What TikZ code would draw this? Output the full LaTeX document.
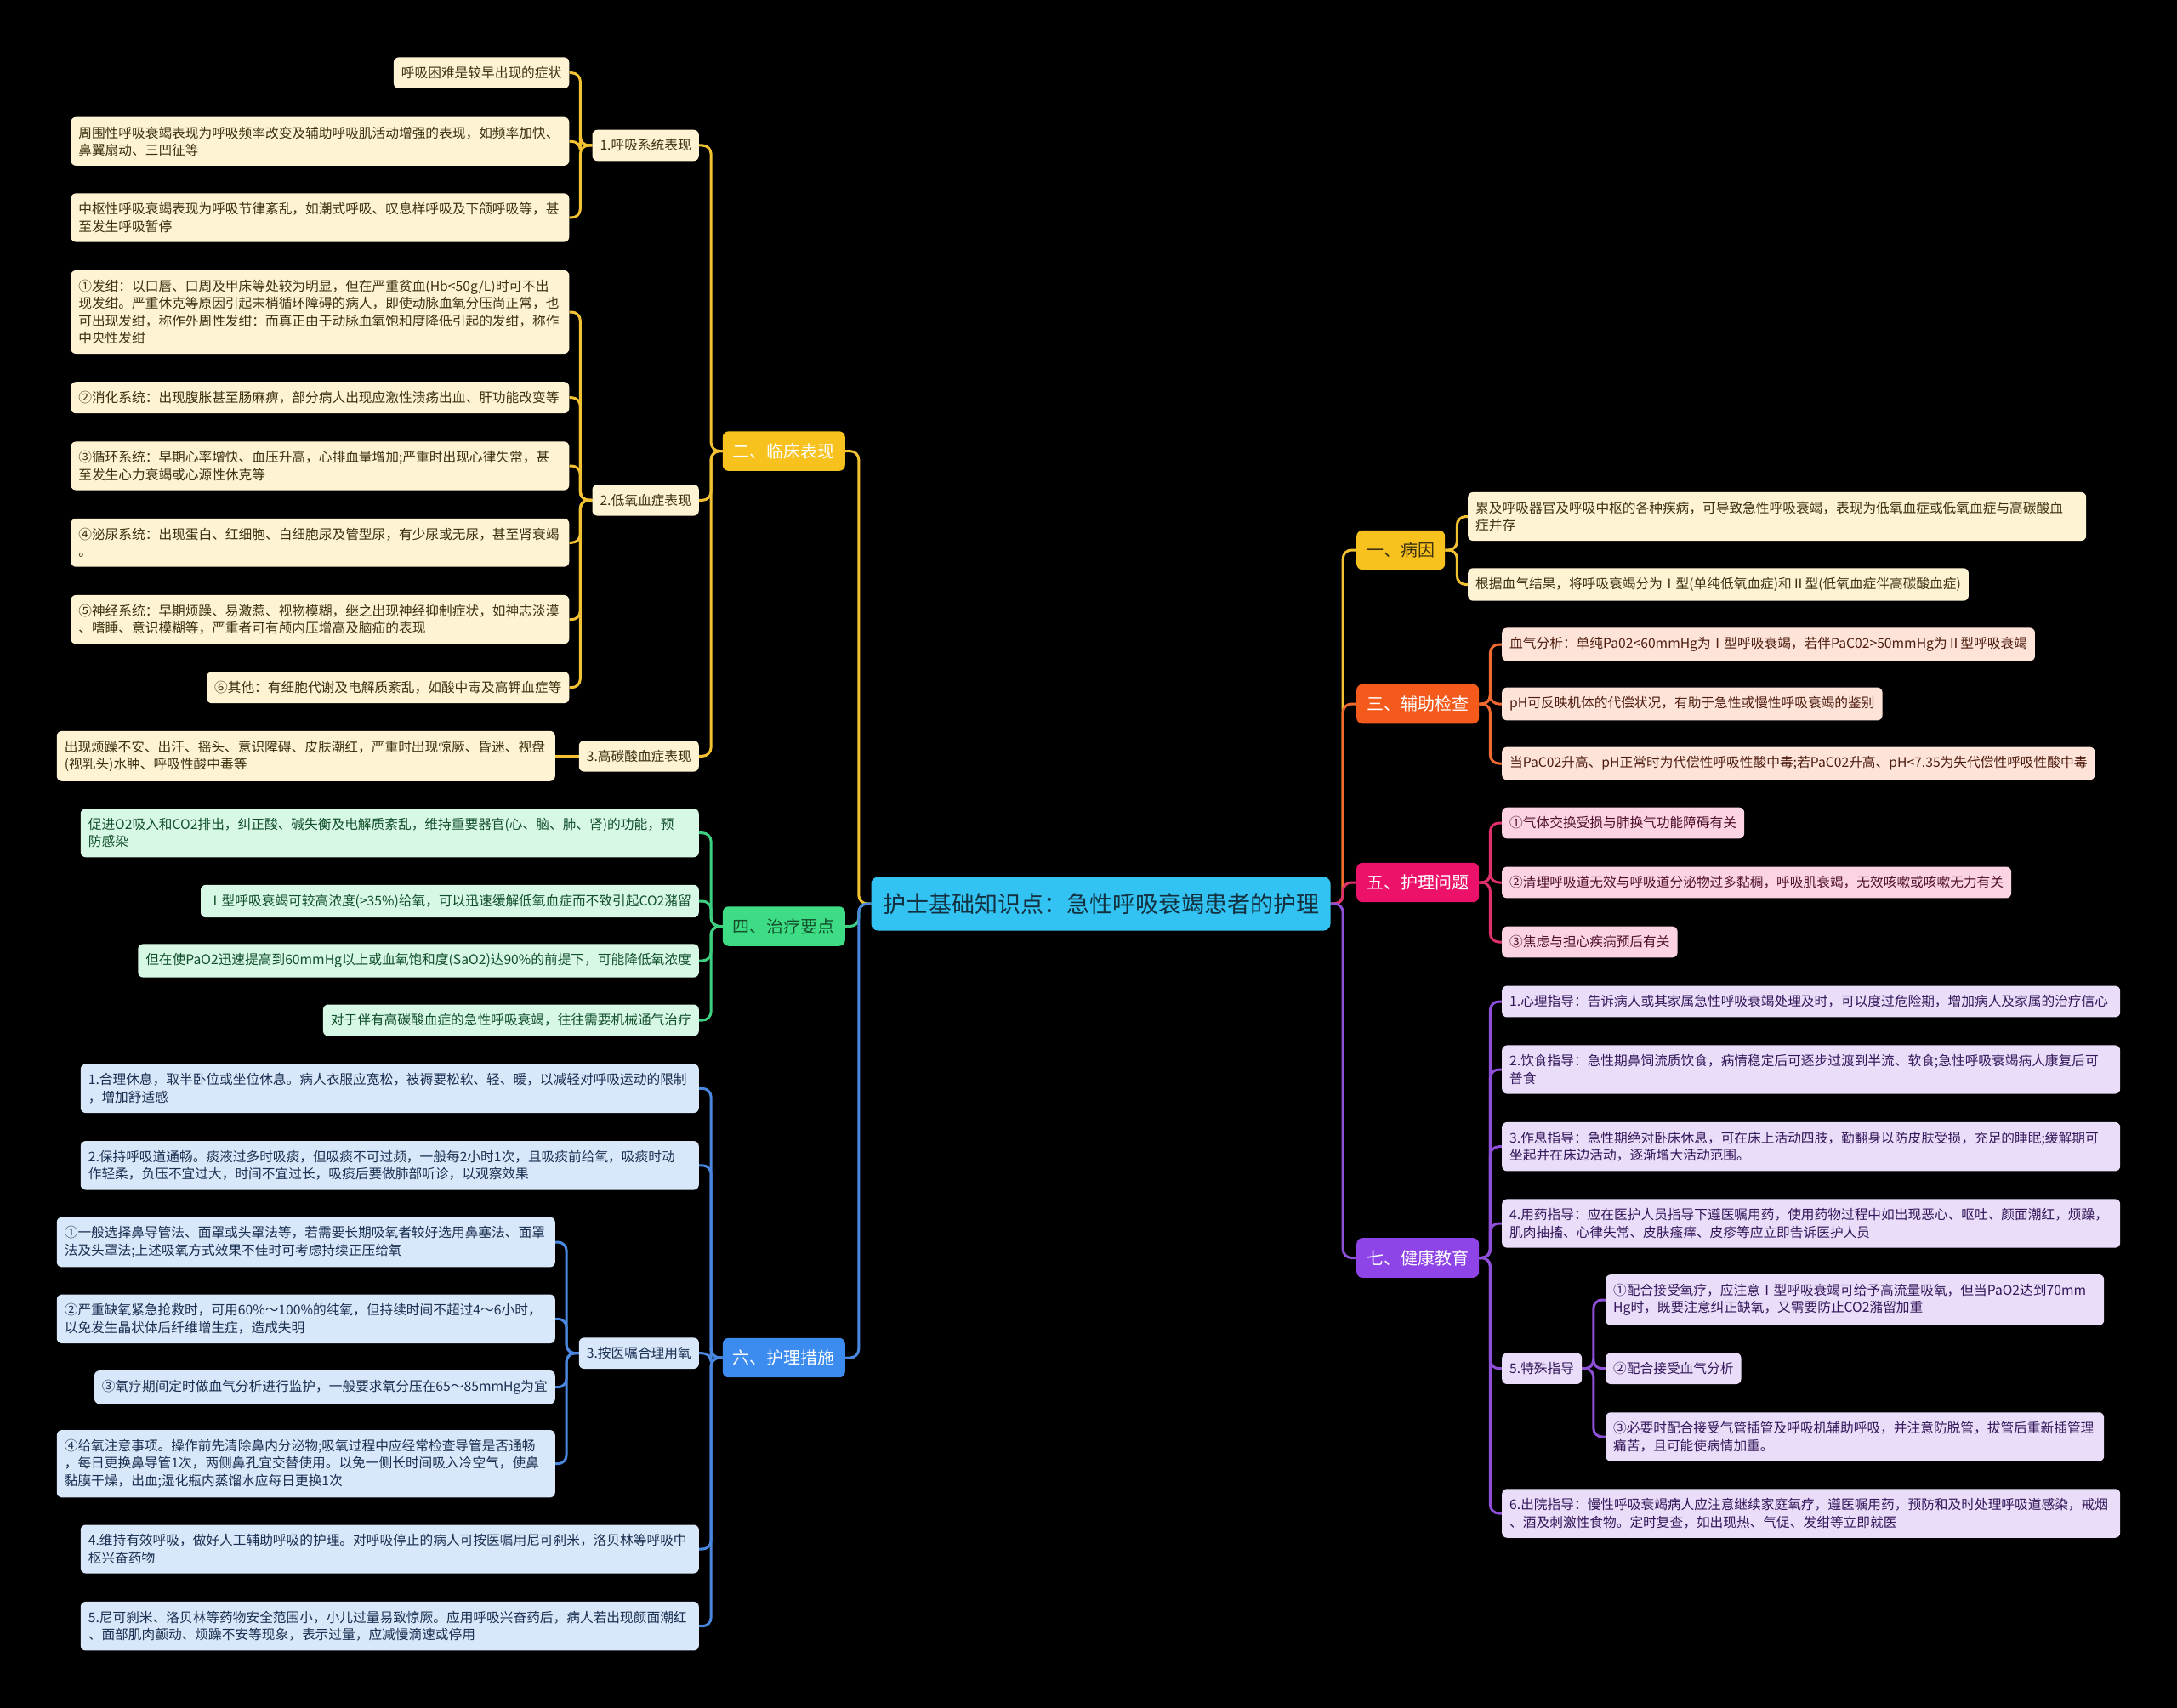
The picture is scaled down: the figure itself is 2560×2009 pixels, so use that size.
\documentclass[tikz,border=0pt]{standalone}
\usepackage{fontspec}
\setmainfont{Noto Sans CJK SC}
\usetikzlibrary{backgrounds}
\definecolor{cRoot}{HTML}{33C3F2}\definecolor{cRootT}{HTML}{12303F}
\definecolor{cGd}{HTML}{F8C21E}\definecolor{cGl}{HTML}{FEF3D3}\definecolor{cGt}{HTML}{3F3210}\definecolor{cGline}{HTML}{F2C232}
\definecolor{cOd}{HTML}{F45A1C}\definecolor{cOl}{HTML}{FDE3D8}\definecolor{cOt}{HTML}{4F1E10}\definecolor{cOline}{HTML}{F06A30}
\definecolor{cPd}{HTML}{EC1169}\definecolor{cPl}{HTML}{FBD3E3}\definecolor{cPt}{HTML}{50102C}\definecolor{cPline}{HTML}{E0306A}
\definecolor{cVd}{HTML}{8E44E6}\definecolor{cVl}{HTML}{E9DDFA}\definecolor{cVt}{HTML}{34185A}\definecolor{cVline}{HTML}{8E50D8}
\definecolor{cNd}{HTML}{3EDC84}\definecolor{cNl}{HTML}{D7F8E5}\definecolor{cNt}{HTML}{12502C}\definecolor{cNline}{HTML}{3ED080}
\definecolor{cBd}{HTML}{3C8CF0}\definecolor{cBl}{HTML}{D9E7FB}\definecolor{cBt}{HTML}{1A3050}\definecolor{cBline}{HTML}{4A88E0}
\newcommand\fsS{\fontsize{15.7pt}{20.5pt}\selectfont}
\newcommand\fsM{\fontsize{20pt}{24pt}\selectfont}
\newcommand\fsL{\fontsize{27pt}{32pt}\selectfont}
\tikzset{
  leaf/.style={rounded corners=6pt, inner xsep=9pt, inner ysep=11pt, align=left, font=\fsS},
  leafG/.style={leaf, fill=cGl, text=cGt},
  leafO/.style={leaf, fill=cOl, text=cOt},
  leafP/.style={leaf, fill=cPl, text=cPt},
  leafV/.style={leaf, fill=cVl, text=cVt},
  leafN/.style={leaf, fill=cNl, text=cNt},
  leafB/.style={leaf, fill=cBl, text=cBt},
  wS/.style={text width=568pt},
  wL/.style={text width=709pt},
  topic/.style={rounded corners=7pt, inner xsep=12pt, inner ysep=14pt, font=\fsM},
  rootbox/.style={rounded corners=8pt, fill=cRoot, text=cRootT, inner xsep=13.5pt, inner ysep=19pt, font=\fsL},
  conn/.style={line width=3pt, rounded corners=10pt},
}
\begin{document}
\begin{tikzpicture}[x=1pt, y=-1pt]
\useasboundingbox (0,0) rectangle (2560,2009);
% root
\node[rootbox] (root) at (1294.5,1063) {护士基础知识点：急性呼吸衰竭患者的护理};
% ---------- right side ----------
\node[topic, fill=cGd, text=cGt, anchor=west] (r1) at (1595,647) {一、病因};
\node[topic, fill=cOd, text=white, anchor=west] (r3) at (1595,828) {三、辅助检查};
\node[topic, fill=cPd, text=white, anchor=west] (r5) at (1595,1038) {五、护理问题};
\node[topic, fill=cVd, text=white, anchor=west] (r7) at (1595,1479.5) {七、健康教育};

\node[leafG, wL, anchor=west] (r1a) at (1726,607.5) {累及呼吸器官及呼吸中枢的各种疾病，可导致急性呼吸衰竭，表现为低氧血症或低氧血症与高碳酸血\\症并存};
\node[leafG, anchor=west] (r1b) at (1726,687.5) {根据血气结果，将呼吸衰竭分为Ⅰ型(单纯低氧血症)和Ⅱ型(低氧血症伴高碳酸血症)};

\node[leafO, anchor=west] (r3a) at (1766,758) {血气分析：单纯Pa02<60mmHg为Ⅰ型呼吸衰竭，若伴PaC02>50mmHg为Ⅱ型呼吸衰竭};
\node[leafO, anchor=west] (r3b) at (1766,828) {pH可反映机体的代偿状况，有助于急性或慢性呼吸衰竭的鉴别};
\node[leafO, anchor=west] (r3c) at (1766,898) {当PaC02升高、pH正常时为代偿性呼吸性酸中毒;若PaC02升高、pH<7.35为失代偿性呼吸性酸中毒};

\node[leafP, anchor=west] (r5a) at (1766,968) {①气体交换受损与肺换气功能障碍有关};
\node[leafP, anchor=west] (r5b) at (1766,1038) {②清理呼吸道无效与呼吸道分泌物过多黏稠，呼吸肌衰竭，无效咳嗽或咳嗽无力有关};
\node[leafP, anchor=west] (r5c) at (1766,1108) {③焦虑与担心疾病预后有关};

\node[leafV, wL, anchor=west] (r7a) at (1766,1178) {1.心理指导：告诉病人或其家属急性呼吸衰竭处理及时，可以度过危险期，增加病人及家属的治疗信心};
\node[leafV, wL, anchor=west] (r7b) at (1766,1258) {2.饮食指导：急性期鼻饲流质饮食，病情稳定后可逐步过渡到半流、软食;急性呼吸衰竭病人康复后可\\普食};
\node[leafV, wL, anchor=west] (r7c) at (1766,1348.7) {3.作息指导：急性期绝对卧床休息，可在床上活动四肢，勤翻身以防皮肤受损，充足的睡眠;缓解期可\\坐起并在床边活动，逐渐增大活动范围。};
\node[leafV, wL, anchor=west] (r7d) at (1766,1439) {4.用药指导：应在医护人员指导下遵医嘱用药，使用药物过程中如出现恶心、呕吐、颜面潮红，烦躁，\\肌肉抽搐、心律失常、皮肤瘙痒、皮疹等应立即告诉医护人员};
\node[leafV, anchor=west] (r7e) at (1766,1609.7) {5.特殊指导};
\node[leafV, wL, anchor=west] (r7f) at (1766,1780) {6.出院指导：慢性呼吸衰竭病人应注意继续家庭氧疗，遵医嘱用药，预防和及时处理呼吸道感染，戒烟\\、酒及刺激性食物。定时复查，如出现热、气促、发绀等立即就医};

\node[leafV, wS, anchor=west] (r7e1) at (1888,1529) {①配合接受氧疗，应注意Ⅰ型呼吸衰竭可给予高流量吸氧，但当PaO2达到70mm\\Hg时，既要注意纠正缺氧，又需要防止CO2潴留加重};
\node[leafV, anchor=west] (r7e2) at (1888,1609.7) {②配合接受血气分析};
\node[leafV, wS, anchor=west] (r7e3) at (1888,1690) {③必要时配合接受气管插管及呼吸机辅助呼吸，并注意防脱管，拔管后重新插管理\\痛苦，且可能使病情加重。};

% ---------- left side ----------
\node[topic, fill=cGd, text=white, anchor=east] (l2) at (994,530.6) {二、临床表现};
\node[topic, fill=cNd, text=cNt, anchor=east] (l4) at (994,1089.5) {四、治疗要点};
\node[topic, fill=cBd, text=white, anchor=east] (l6) at (994,1597) {六、护理措施};

\node[leafG, anchor=east] (l2a) at (822,171) {1.呼吸系统表现};
\node[leafG, anchor=east] (l2b) at (822,588.3) {2.低氧血症表现};
\node[leafG, anchor=east] (l2c) at (822,889.3) {3.高碳酸血症表现};

\node[leafG, anchor=east] (l2a1) at (669.5,85.7) {呼吸困难是较早出现的症状};
\node[leafG, wS, anchor=east] (l2a2) at (669.5,166.3) {周围性呼吸衰竭表现为呼吸频率改变及辅助呼吸肌活动增强的表现，如频率加快、\\鼻翼扇动、三凹征等};
\node[leafG, wS, anchor=east] (l2a3) at (669.5,256) {中枢性呼吸衰竭表现为呼吸节律紊乱，如潮式呼吸、叹息样呼吸及下颌呼吸等，甚\\至发生呼吸暂停};

\node[leafG, wS, anchor=east] (l2b1) at (669.5,367) {①发绀：以口唇、口周及甲床等处较为明显，但在严重贫血(Hb<50g/L)时可不出\\现发绀。严重休克等原因引起末梢循环障碍的病人，即使动脉血氧分压尚正常，也\\可出现发绀，称作外周性发绀：而真正由于动脉血氧饱和度降低引起的发绀，称作\\中央性发绀};
\node[leafG, wS, anchor=east] (l2b2) at (669.5,467.7) {②消化系统：出现腹胀甚至肠麻痹，部分病人出现应激性溃疡出血、肝功能改变等};
\node[leafG, wS, anchor=east] (l2b3) at (669.5,548) {③循环系统：早期心率增快、血压升高，心排血量增加;严重时出现心律失常，甚\\至发生心力衰竭或心源性休克等};
\node[leafG, wS, anchor=east] (l2b4) at (669.5,638.3) {④泌尿系统：出现蛋白、红细胞、白细胞尿及管型尿，有少尿或无尿，甚至肾衰竭\\。};
\node[leafG, wS, anchor=east] (l2b5) at (669.5,728.7) {⑤神经系统：早期烦躁、易激惹、视物模糊，继之出现神经抑制症状，如神志淡漠\\、嗜睡、意识模糊等，严重者可有颅内压增高及脑疝的表现};
\node[leafG, anchor=east] (l2b6) at (669.5,808.7) {⑥其他：有细胞代谢及电解质紊乱，如酸中毒及高钾血症等};

\node[leafG, wS, anchor=east] (l2c1) at (653,889.3) {出现烦躁不安、出汗、摇头、意识障碍、皮肤潮红，严重时出现惊厥、昏迷、视盘\\(视乳头)水肿、呼吸性酸中毒等};

\node[leafN, wL, anchor=east] (l4a) at (822,979.7) {促进O2吸入和CO2排出，纠正酸、碱失衡及电解质紊乱，维持重要器官(心、脑、肺、肾)的功能，预\\防感染};
\node[leafN, anchor=east] (l4b) at (822,1060) {Ⅰ型呼吸衰竭可较高浓度(>35\%)给氧，可以迅速缓解低氧血症而不致引起CO2潴留};
\node[leafN, anchor=east] (l4c) at (822,1130) {但在使PaO2迅速提高到60mmHg以上或血氧饱和度(SaO2)达90\%的前提下，可能降低氧浓度};
\node[leafN, anchor=east] (l4d) at (822,1200) {对于伴有高碳酸血症的急性呼吸衰竭，往往需要机械通气治疗};

\node[leafB, wL, anchor=east] (l6a) at (822,1280.3) {1.合理休息，取半卧位或坐位休息。病人衣服应宽松，被褥要松软、轻、暖，以减轻对呼吸运动的限制\\，增加舒适感};
\node[leafB, wL, anchor=east] (l6b) at (822,1370.8) {2.保持呼吸道通畅。痰液过多时吸痰，但吸痰不可过频，一般每2小时1次，且吸痰前给氧，吸痰时动\\作轻柔，负压不宜过大，时间不宜过长，吸痰后要做肺部听诊，以观察效果};
\node[leafB, anchor=east] (l6c) at (822,1591.7) {3.按医嘱合理用氧};
\node[leafB, wL, anchor=east] (l6d) at (822,1822) {4.维持有效呼吸，做好人工辅助呼吸的护理。对呼吸停止的病人可按医嘱用尼可刹米，洛贝林等呼吸中\\枢兴奋药物};
\node[leafB, wL, anchor=east] (l6e) at (822,1912.7) {5.尼可刹米、洛贝林等药物安全范围小，小儿过量易致惊厥。应用呼吸兴奋药后，病人若出现颜面潮红\\、面部肌肉颤动、烦躁不安等现象，表示过量，应减慢滴速或停用};

\node[leafB, wS, anchor=east] (l6c1) at (653,1461) {①一般选择鼻导管法、面罩或头罩法等，若需要长期吸氧者较好选用鼻塞法、面罩\\法及头罩法;上述吸氧方式效果不佳时可考虑持续正压给氧};
\node[leafB, wS, anchor=east] (l6c2) at (653,1551.3) {②严重缺氧紧急抢救时，可用60\%～100\%的纯氧，但持续时间不超过4～6小时，\\以免发生晶状体后纤维增生症，造成失明};
\node[leafB, anchor=east] (l6c3) at (653,1631.7) {③氧疗期间定时做血气分析进行监护，一般要求氧分压在65～85mmHg为宜};
\node[leafB, wS, anchor=east] (l6c4) at (653,1721.7) {④给氧注意事项。操作前先清除鼻内分泌物;吸氧过程中应经常检查导管是否通畅\\，每日更换鼻导管1次，两侧鼻孔宜交替使用。以免一侧长时间吸入冷空气，使鼻\\黏膜干燥，出血;湿化瓶内蒸馏水应每日更换1次};

% ---------- connectors ----------
\begin{scope}[on background layer]
\fill[black] (0,0) rectangle (2560,2009);
% root to topics
\draw[conn, cGline] (root.east) -- ++(14.5,0) |- (r1.west);
\draw[conn, cOline] (root.east) -- ++(14.5,0) |- (r3.west);
\draw[conn, cPline] (root.east) -- ++(14.5,0) |- (r5.west);
\draw[conn, cVline] (root.east) -- ++(14.5,0) |- (r7.west);
\draw[conn, cGline] (root.west) -- ++(-14.5,0) |- (l2.east);
\draw[conn, cNline] (root.west) -- ++(-14.5,0) |- (l4.east);
\draw[conn, cBline] (root.west) -- ++(-14.5,0) |- (l6.east);
% right branches
\foreach \c in {r1a,r1b} \draw[conn, cGline] (r1.east) -- ++(14,0) |- (\c.west);
\foreach \c in {r3a,r3b,r3c} \draw[conn, cOline] (r3.east) -- ++(13,0) |- (\c.west);
\foreach \c in {r5a,r5b,r5c} \draw[conn, cPline] (r5.east) -- ++(13,0) |- (\c.west);
\foreach \c in {r7a,r7b,r7c,r7d,r7e,r7f} \draw[conn, cVline] (r7.east) -- ++(13,0) |- (\c.west);
\foreach \c in {r7e1,r7e2,r7e3} \draw[conn, cVline] (r7e.east) -- ++(13.5,0) |- (\c.west);
% left branches
\foreach \c in {l2a,l2b,l2c} \draw[conn, cGline] (l2.west) -- ++(-13.5,0) |- (\c.east);
\foreach \c in {l2a1,l2a2,l2a3} \draw[conn, cGline] (l2a.west) -- ++(-14,0) |- (\c.east);
\foreach \c in {l2b1,l2b2,l2b3,l2b4,l2b5,l2b6} \draw[conn, cGline] (l2b.west) -- ++(-14,0) |- (\c.east);
\draw[conn, cGline] (l2c.west) -- (l2c1.east);
\foreach \c in {l4a,l4b,l4c,l4d} \draw[conn, cNline] (l4.west) -- ++(-13.5,0) |- (\c.east);
\foreach \c in {l6a,l6b,l6c,l6d,l6e} \draw[conn, cBline] (l6.west) -- ++(-13.5,0) |- (\c.east);
\foreach \c in {l6c1,l6c2,l6c3,l6c4} \draw[conn, cBline] (l6c.west) -- ++(-14.5,0) |- (\c.east);
\end{scope}
\end{tikzpicture}
\end{document}
